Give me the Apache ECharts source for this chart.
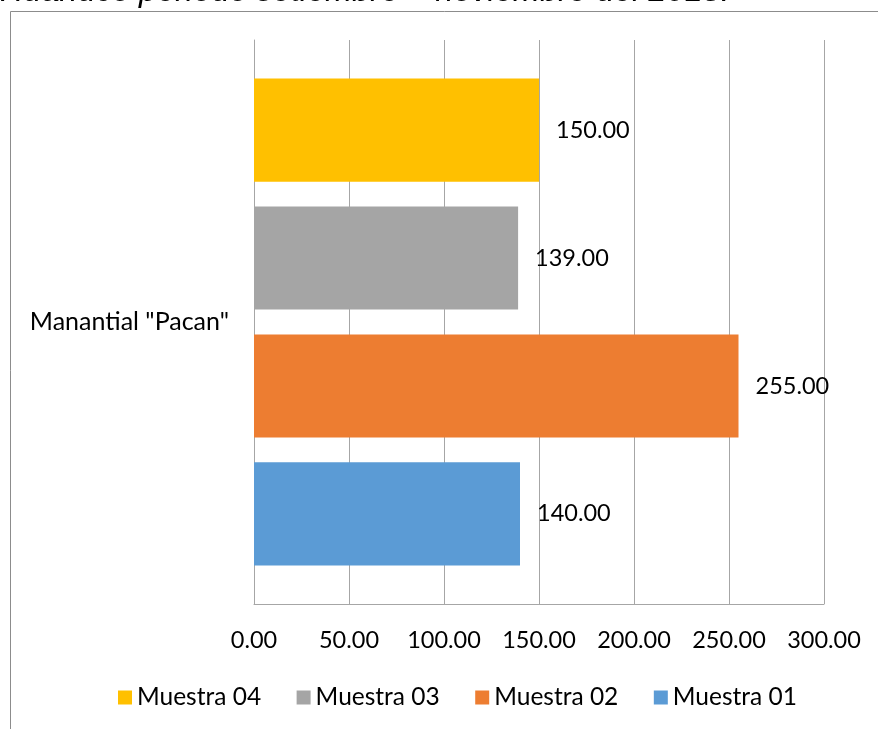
<!DOCTYPE html>
<html>
<head>
<meta charset="utf-8">
<script src="https://cdn.jsdelivr.net/npm/echarts@6/dist/echarts.min.js"></script>
<style>
  html, body { margin: 0; padding: 0; background: #fff; }
  #chart { width: 878px; height: 729px; }
</style>
</head>
<body>
<div id="chart"></div>
<script>
// Sampling site and measured values per sample
const categories = ['Manantial "Pacan"'];
const seriesNames = ['Muestra 04', 'Muestra 03', 'Muestra 02', 'Muestra 01'];
const muestra04 = [150];
const muestra03 = [139];
const muestra02 = [255];
const muestra01 = [140];
const xTicks = [0, 50, 100, 150, 200, 250, 300];
const titleText = 'Huánuco periodo setiembre – noviembre del 2018.';

// Series are listed top-to-bottom, matching the legend order
const seriesValues = [muestra04, muestra03, muestra02, muestra01];
const colors = ['#FFC000', '#A5A5A5', '#ED7D31', '#5B9BD5'];
const FONT = 'Lato, "Noto Sans", sans-serif';

const chart = echarts.init(document.getElementById('chart'));

chart.setOption({
  animation: false,
  backgroundColor: '#ffffff',
  textStyle: { fontFamily: FONT },
  graphic: [
    {
      type: 'polyline',
      shape: { points: [[10.5, 729], [10.5, 11.5], [878, 11.5]] },
      style: { stroke: '#8c8c8c', lineWidth: 1, fill: null },
      silent: true
    },
    {
      type: 'text',
      x: 0,
      y: -24.5,
      style: {
        text: titleText,
        font: 'italic 32.5px "Liberation Sans", Arial, sans-serif',
        fill: '#000000'
      },
      silent: true
    }
  ],
  legend: {
    data: seriesNames,
    bottom: 14,
    left: 113,
    itemWidth: 14,
    itemHeight: 14,
    itemGap: 35.5,
    icon: 'rect',
    textStyle: { fontSize: 24.5, color: '#000', fontFamily: FONT }
  },
  grid: {
    left: 254,
    right: 54,
    top: 40,
    bottom: 125,
    containLabel: false
  },
  xAxis: {
    type: 'value',
    min: xTicks[0],
    max: xTicks[xTicks.length - 1],
    interval: xTicks[1] - xTicks[0],
    axisLine: { show: true, lineStyle: { color: '#a6a6a6' } },
    axisTick: { show: false },
    splitLine: { show: true, lineStyle: { color: '#a6a6a6', width: 1 } },
    axisLabel: {
      margin: 24,
      fontSize: 23.5,
      color: '#000',
      fontFamily: FONT,
      formatter: v => v.toFixed(2)
    }
  },
  yAxis: {
    type: 'category',
    data: categories,
    inverse: true,
    axisLine: { show: true, lineStyle: { color: '#a6a6a6' } },
    axisTick: { show: false },
    axisLabel: { margin: 25, fontSize: 25, color: '#000', fontFamily: FONT }
  },
  series: seriesNames.map((name, i) => ({
    name: name,
    type: 'bar',
    data: seriesValues[i],
    barGap: '24%',
    barCategoryGap: '13.65%',
    itemStyle: { color: colors[i] },
    label: {
      show: true,
      position: 'right',
      distance: 17,
      fontSize: 23.5,
      color: '#000',
      fontFamily: FONT,
      formatter: p => p.value.toFixed(2)
    }
  }))
});
</script>
</body>
</html>
